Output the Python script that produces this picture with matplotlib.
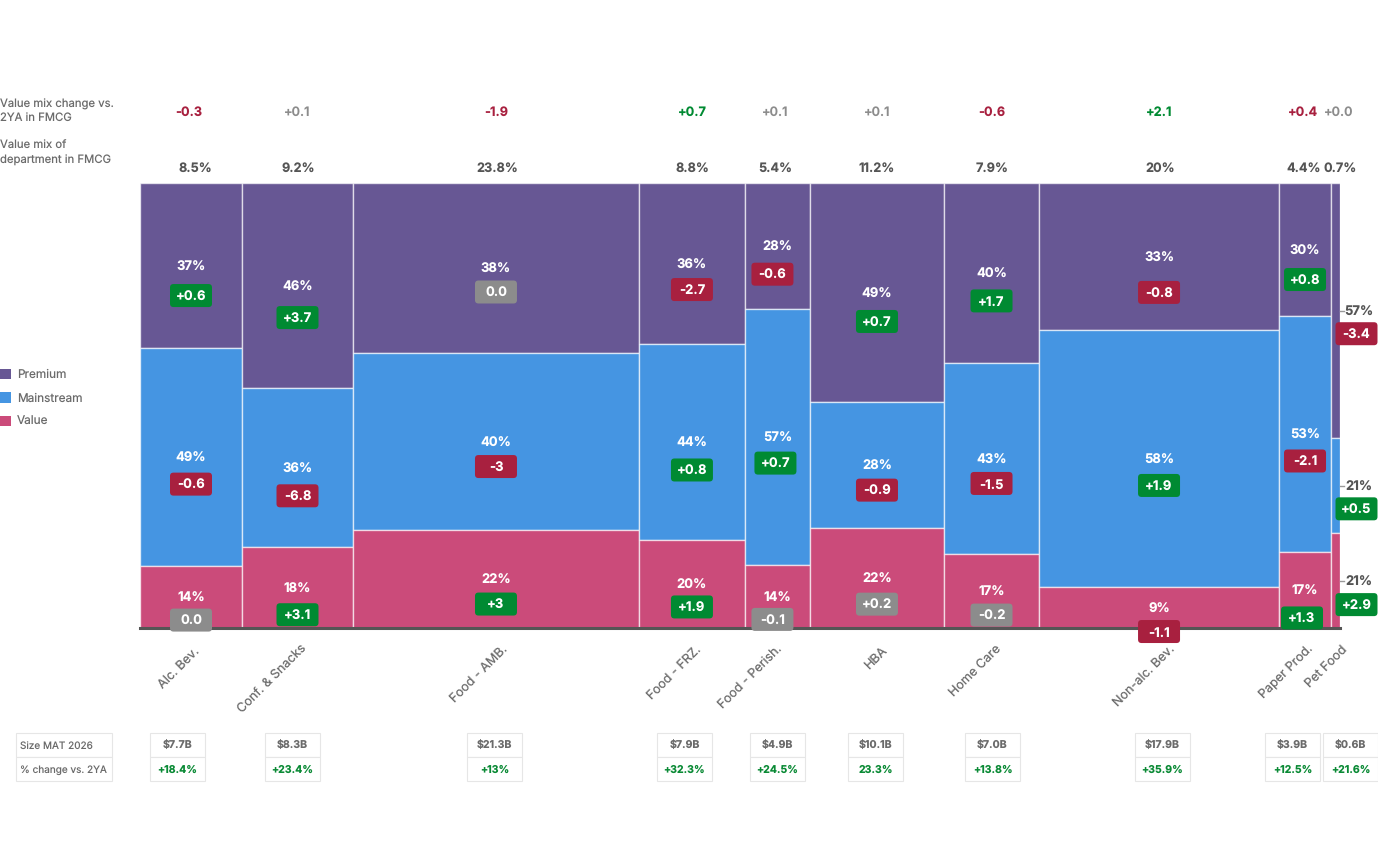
import matplotlib
matplotlib.use("Agg")
import matplotlib.pyplot as plt
from matplotlib.patches import FancyBboxPatch, Rectangle, Patch

plt.rcParams['font.family'] = ['Inter', 'DejaVu Sans']
plt.rcParams['text.hinting'] = 'no_hinting'

# ---- data ----
departments = ["Alc. Bev.", "Conf. & Snacks", "Food - AMB.", "Food - FRZ.", "Food - Perish.",
               "HBA", "Home Care", "Non-alc. Bev.", "Paper Prod.", "Pet Food"]
share = [8.5, 9.25, 23.83, 8.83, 5.42, 11.17, 7.92, 20, 4.33, 0.75]
share_labels = ["8.5%", "9.2%", "23.8%", "8.8%", "5.4%", "11.2%", "7.9%", "20%", "4.4%", "0.7%"]
mix_change = ["-0.3", "+0.1", "-1.9", "+0.7", "+0.1", "+0.1", "-0.6", "+2.1", "+0.4", "+0.0"]
mix_change_dir = [-1, 0, -1, 1, 0, 0, -1, 1, -1, 0]

premium = [37.1, 46.1, 38.2, 36.2, 28.4, 49.2, 40.4, 33.0, 29.9, 57.4]
mainstream = [49.0, 35.8, 39.8, 44.0, 57.4, 28.4, 43.0, 57.8, 53.0, 21.3]
value = [13.9, 18.1, 22.0, 19.8, 14.2, 22.4, 16.6, 9.2, 17.1, 21.3]

premium_chg = ["+0.6", "+3.7", "0.0", "-2.7", "-0.6", "+0.7", "+1.7", "-0.8", "+0.8", "-3.4"]
mainstream_chg = ["-0.6", "-6.8", "-3", "+0.8", "+0.7", "-0.9", "-1.5", "+1.9", "-2.1", "+0.5"]
value_chg = ["0.0", "+3.1", "+3", "+1.9", "-0.1", "+0.2", "-0.2", "-1.1", "+1.3", "+2.9"]

size_mat = ["$7.7B", "$8.3B", "$21.3B", "$7.9B", "$4.9B", "$10.1B", "$7.0B", "$17.9B", "$3.9B", "$0.6B"]
size_chg = ["+18.4%", "+23.4%", "+13%", "+32.3%", "+24.5%", "23.3%", "+13.8%", "+35.9%", "+12.5%", "+21.6%"]

# ---- layout (pixels) ----
W, H = 1378, 858
top_x = [189, 297, 496, 692, 775, 877, 992, 1159, 1303, 1339]
share_x = [195, 298, 497, 692, 775, 877, 992, 1160, 1304, 1340]
cell_x = [150, 265, 467, 657, 750, 848, 965, 1135, 1265, 1323]
cat_end = [(193, 645), (301, 643), (501, 643), (695, 643), (776, 643),
           (881, 645), (995, 643), (1169, 643), (1307, 643), (1341, 643)]
badge_gap = [[30, 27, 23], [32, 28, 27], [24, 25, 25], [26, 28, 23], [28, 26, 23],
             [29, 25, 26], [28, 25, 24], [36, 27, 24], [30, 27, 28], [23, 23, 24]]
badge_dx = {4: [-5, -2, -5], 8: [0, 0, -3]}
grey_badges = {"0.0", "-0.1", "+0.2", "-0.2"}

PURPLE, BLUE, PINK = "#675794", "#4595E2", "#CB4B7A"
GREEN, RED, GRAY = "#008A32", "#A8203F", "#8C8C8C"
TXT, MUTED = "#555555", "#6B6B6B"

fig = plt.figure(figsize=(W / 100, H / 100), dpi=100, facecolor="white")
ax = fig.add_axes([140 / W, 1 - 628 / H, 1200 / W, 445 / H])
ax.set_xlim(0, 100)
ax.set_ylim(0, 100)
for s in ("top", "left", "right"):
    ax.spines[s].set_visible(False)
ax.spines["bottom"].set_color("#555555")
ax.spines["bottom"].set_linewidth(2.2)
ax.set_yticks([])
ax.set_xticks([])

ov = fig.add_axes([0, 0, 1, 1], zorder=5)
ov.set_xlim(0, W)
ov.set_ylim(H, 0)
ov.axis("off")
ov.patch.set_alpha(0)

edge = (1, 1, 1, 0.65)
left = 0.0
segments = [(premium, PURPLE, premium_chg), (mainstream, BLUE, mainstream_chg), (value, PINK, value_chg)]


def to_px(x, y):
    px, py = ax.transData.transform((x, y))
    return px, H - py


def badge(cx, cy, txt):
    c = GRAY if txt in grey_badges else GREEN if txt.startswith("+") else RED
    w, h = 42, 23
    ov.add_patch(FancyBboxPatch((cx - w / 2 + 3, cy - h / 2 + 3), w - 6, h - 6,
                                boxstyle="round,pad=3,rounding_size=3.5",
                                fc=c, ec="none", mutation_aspect=1, zorder=6))
    ov.text(cx, cy + 1.5, txt, color="white", fontsize=9.4,
            fontweight="bold", ha="center", va="center", zorder=7)


for i, (dept, w) in enumerate(zip(departments, share)):
    top = 100.0
    for j, (vals, col, chg) in enumerate(segments):
        v = vals[i]
        ax.bar(left, v, width=w, bottom=top - v, align="edge", color=col,
               edgecolor=edge, linewidth=1.0, zorder=2)
        cx, cy = to_px(left + w / 2, top - v / 2)
        dx = badge_dx.get(i, [0, 0, 0])[j]
        if i == len(departments) - 1:
            ov.plot([1340, 1344], [cy, cy], color="#999999", lw=1, zorder=4)
            ov.text(1358.5, cy + 1.5, f"{v:.0f}%", color=TXT, fontsize=9.4, fontweight="bold",
                    ha="center", va="center", zorder=7)
            badge(1356.5, cy + badge_gap[i][j], chg[i])
        else:
            ov.text(cx, cy + 1.5, f"{v:.0f}%", color="white", fontsize=9.4, fontweight="bold",
                    ha="center", va="center", zorder=7)
            badge(cx + dx, cy + badge_gap[i][j], chg[i])
        top -= v
    left += w

# header rows
for x, y, s in [(0, 104, "Value mix change vs."), (0, 118, "2YA in FMCG"),
                (0, 146, "Value mix of"), (0, 160.5, "department in FMCG")]:
    ov.text(x, y, s, color=MUTED, fontsize=8.15, ha="left", va="center")
dir_col = {1: GREEN, -1: RED, 0: GRAY}
for x, s, d in zip(top_x, mix_change, mix_change_dir):
    ov.text(x, 112.5, s, color=dir_col[d], fontsize=9.2, fontweight="bold" if d else "semibold",
            ha="center", va="center")
for x, s in zip(share_x, share_labels):
    ov.text(x, 168.5, s, color=TXT, fontsize=9.2, fontweight="bold", ha="center", va="center")

# category labels
for (x, y), s in zip(cat_end, departments):
    ov.text(x, y, s, color=MUTED, fontsize=9.1, rotation=45, rotation_mode="anchor",
            ha="right", va="top")

# legend
handles = [Patch(fc=PURPLE, label="Premium"), Patch(fc=BLUE, label="Mainstream"), Patch(fc=PINK, label="Value")]
fig.legend(handles=handles, loc="upper left", bbox_to_anchor=(0, 1 - 369 / H), frameon=False,
           fontsize=8.5, labelcolor=MUTED, borderpad=0, borderaxespad=0, handlelength=0.95,
           handleheight=0.95, handletextpad=0.5, labelspacing=1.0)


def cell(x, y, w, h):
    ov.add_patch(Rectangle((x, y), w, h, fc="white", ec="#E6E6E6", lw=0.8, zorder=3))


# table
cell(16, 733, 96, 24)
cell(16, 757, 96, 24)
ov.text(19.5, 746, "Size MAT 2026", color=MUTED, fontsize=7.2, ha="left", va="center", zorder=4)
ov.text(19.5, 770, "% change vs. 2YA", color=MUTED, fontsize=7.2, ha="left", va="center", zorder=4)
for x, a, b in zip(cell_x, size_mat, size_chg):
    cell(x, 733, 55, 24)
    cell(x, 757, 55, 24)
    ov.text(x + 27.5, 746, a.replace("$", r"\$"), color=MUTED, fontsize=7.6, fontweight="bold",
            ha="center", va="center", zorder=4)
    ov.text(x + 27.5, 770, b, color="#0A8A35", fontsize=7.6, fontweight="bold",
            ha="center", va="center", zorder=4)

fig.savefig("out.png", dpi=100, facecolor="white")
